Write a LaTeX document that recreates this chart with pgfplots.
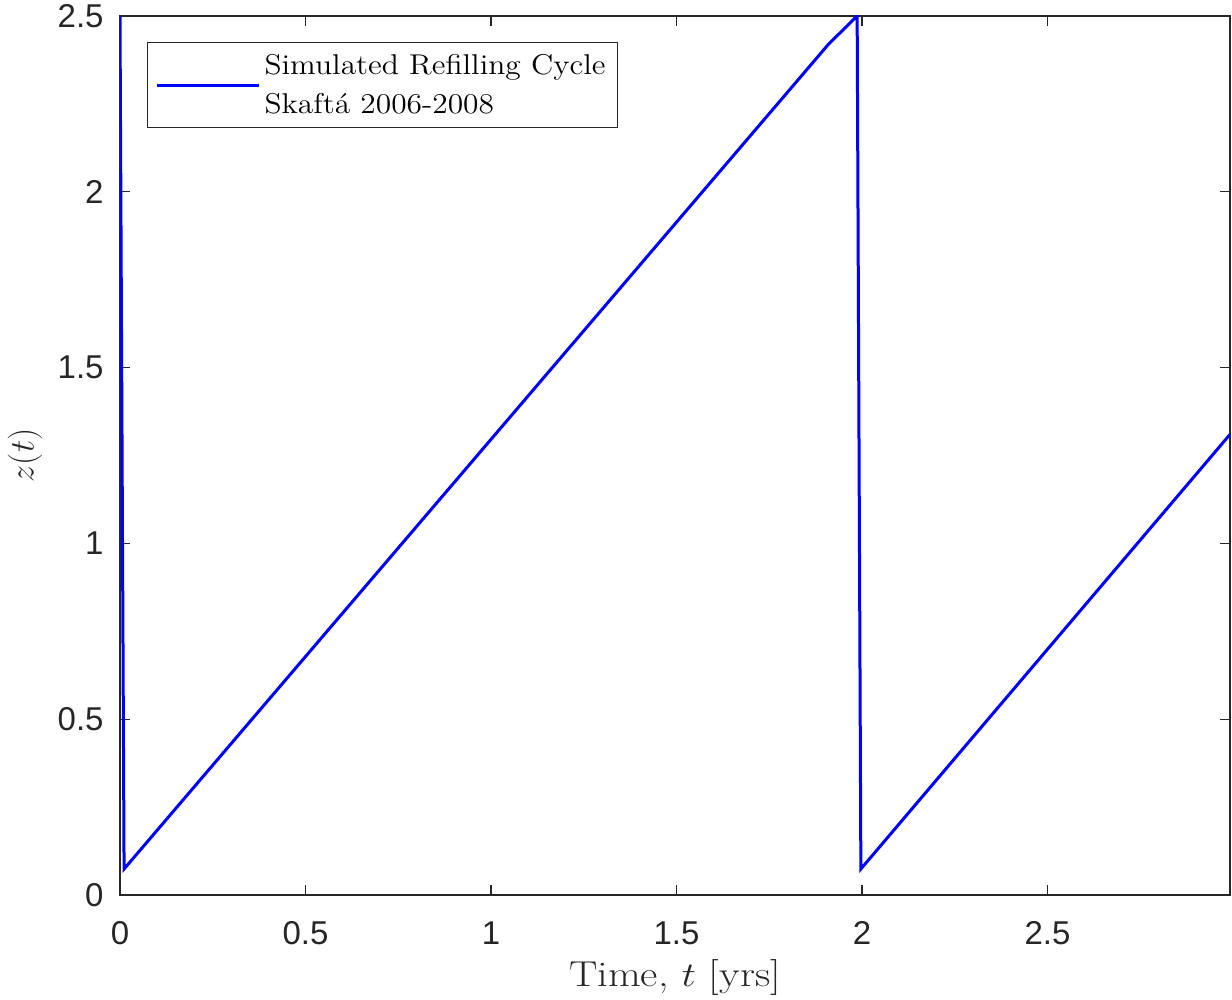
\documentclass[border=0pt]{standalone}
\usepackage{pgfplots}
\pgfplotsset{compat=1.18}
\usepackage{fontspec}
\newfontfamily\ticksans{Liberation Sans}
\definecolor{mblue}{rgb}{0,0,1}
\begin{document}
\begin{tikzpicture}
\useasboundingbox (-60pt,-52.5pt) rectangle (556pt,447.5pt);
\begin{axis}[
  at={(0pt,0pt)}, anchor=south west,
  scale only axis, width=555pt, height=439.5pt,
  xmin=0, xmax=2.992, ymin=0, ymax=2.5,
  xtick={0,0.5,1,1.5,2,2.5}, ytick={0,0.5,1,1.5,2,2.5},
  xticklabels={0,0.5,1,1.5,2,2.5}, yticklabels={0,0.5,1,1.5,2,2.5},
  tick align=inside, major tick length=5pt,
  axis line style={draw=black!85, line width=0.6pt},
  every tick/.style={black!85, line width=0.6pt},
  tick label style={font=\ticksans\fontsize{16.5}{19}\selectfont, text=black!85},
  xticklabel style={anchor=base, inner sep=0pt, yshift=-25pt},
  yticklabel style={anchor=east, inner sep=0pt, xshift=-8pt},
  xlabel={\scalebox{1.18}[1]{Time, $t$ [yrs]}}, ylabel={$z(t)$},
  label style={font=\fontsize{18}{20}\selectfont, text=black!85},
  xlabel style={at={(axis description cs:0.5,0)}, anchor=base, inner sep=0pt, yshift=-46pt},
  ylabel style={at={(axis description cs:-0.0856,0.5)}, anchor=center, inner sep=0pt},
  legend style={at={(0.0243,0.9704)}, anchor=north west, draw=black!85, line width=0.6pt,
    font=\fontsize{14.3}{19.5}\selectfont, cells={anchor=west, align=left},
    inner xsep=4pt, inner ysep=3pt, nodes={inner xsep=2pt, inner ysep=2.75pt}},
  legend image code/.code={\draw[#1] (0pt,0pt) -- (51pt,0pt);},
]
\addplot[mblue, line width=1.5pt] coordinates {
  (0,2.5) (0.011,0.074) (1.91,2.42) (1.987,2.5) (1.997,0.074) (2.992,1.31)
};
\addlegendentry{\scalebox{1.10}[1]{Simulated Refilling Cycle}\\\scalebox{1.10}[1]{Skaftá 2006-2008}}
\end{axis}
\end{tikzpicture}
\end{document}
